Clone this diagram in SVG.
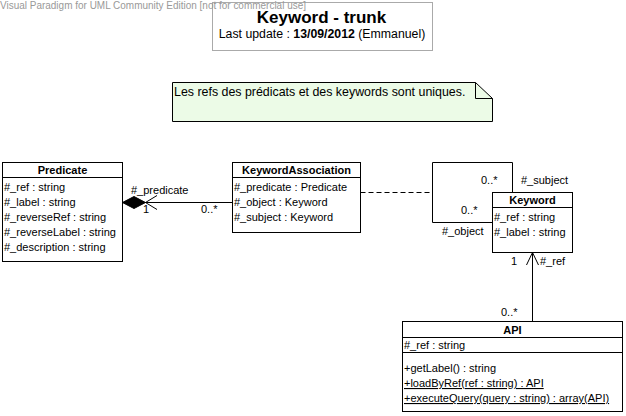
<svg xmlns="http://www.w3.org/2000/svg" width="626" height="416" viewBox="0 0 626 416">
<style>
text{font-family:"Liberation Sans",Arial,sans-serif;font-size:11px;fill:#000}
.hd{font-weight:bold;text-anchor:middle}
.box{fill:#fff;stroke:#000;stroke-width:1}
.ln{fill:none;stroke:#000;stroke-width:1}
.u{text-decoration:underline}
</style>
<rect width="626" height="416" fill="#fff"/>
<g id="title">
<rect x="212.5" y="2.5" width="220" height="48" fill="#fff" stroke="#aaa"/>
<text x="321.5" y="23" style="font-size:17px;font-weight:bold;text-anchor:middle">Keyword - trunk</text>
<text x="322" y="38" style="font-size:12.3px;text-anchor:middle">Last update : <tspan font-weight="bold">13/09/2012</tspan> (Emmanuel)</text>
</g>
<g id="note">
<path d="M172.5,82.5 H475.5 L492.5,98.5 V121.5 H172.5 Z" fill="#ecfbe7" stroke="#000"/>
<path d="M475.5,82.5 V98.5 H492.5" class="ln"/>
<text x="174" y="96" style="font-size:12.4px">Les refs des prédicats et des keywords sont uniques.</text>
</g>
<g id="connectors">
<path d="M122.5,202.5 H232.5" class="ln"/>
<polygon points="122.5,202.5 134,196.5 145.5,202.5 134,208.5" fill="#000" stroke="#000"/>
<path d="M157,195.5 L145.5,202.5 L157,209.5" class="ln"/>
<text x="131" y="194">#_predicate</text>
<text x="143" y="213">1</text>
<text x="201" y="213">0..*</text>
<path d="M360.5,192.5 H432.5" class="ln" stroke-dasharray="5,3"/>
<path d="M512.5,192.5 V162.5 H432.5 V222.5 H492.5" class="ln"/>
<text x="481" y="184">0..*</text>
<text x="521" y="184">#_subject</text>
<text x="461" y="214">0..*</text>
<text x="442" y="235">#_object</text>
<path d="M532.5,252.5 V321.5" class="ln"/>
<path d="M526.5,265 L532.5,252.5 L538.5,265" class="ln"/>
<text x="511" y="265">1</text>
<text x="540" y="265">#_ref</text>
<text x="501" y="316">0..*</text>
</g>
<g id="Predicate">
<rect x="2.5" y="162.5" width="120" height="99" class="box"/>
<path d="M2.5,177.5 H122.5" class="ln"/>
<text x="62.5" y="174" class="hd">Predicate</text>
<text x="4" y="191">#_ref : string</text>
<text x="4" y="206">#_label : string</text>
<text x="4" y="221">#_reverseRef : string</text>
<text x="4" y="236">#_reverseLabel : string</text>
<text x="4" y="251">#_description : string</text>
</g>
<g id="KeywordAssociation">
<rect x="232.5" y="162.5" width="128" height="70" class="box"/>
<path d="M232.5,177.5 H360.5" class="ln"/>
<text x="296.5" y="174" class="hd">KeywordAssociation</text>
<text x="234" y="191">#_predicate : Predicate</text>
<text x="234" y="206">#_object : Keyword</text>
<text x="234" y="221">#_subject : Keyword</text>
</g>
<g id="Keyword">
<rect x="492.5" y="192.5" width="80" height="60" class="box"/>
<path d="M492.5,207.5 H572.5" class="ln"/>
<text x="532.5" y="204" class="hd">Keyword</text>
<text x="494" y="221">#_ref : string</text>
<text x="494" y="236">#_label : string</text>
</g>
<g id="API">
<rect x="402.5" y="321.5" width="220" height="90" class="box"/>
<path d="M402.5,337.5 H622.5 M402.5,352.5 H622.5" class="ln"/>
<text x="512.5" y="334" class="hd">API</text>
<text x="404" y="349">#_ref : string</text>
<text x="404" y="372">+getLabel() : string</text>
<text x="404" y="387" class="u">+loadByRef(ref : string) : API</text>
<text x="404" y="402" class="u">+executeQuery(query : string) : array(API)</text>
</g>
<text x="0" y="9" style="font-size:10px;fill:#999" textLength="306" lengthAdjust="spacingAndGlyphs">Visual Paradigm for UML Community Edition [not for commercial use]</text>
</svg>
